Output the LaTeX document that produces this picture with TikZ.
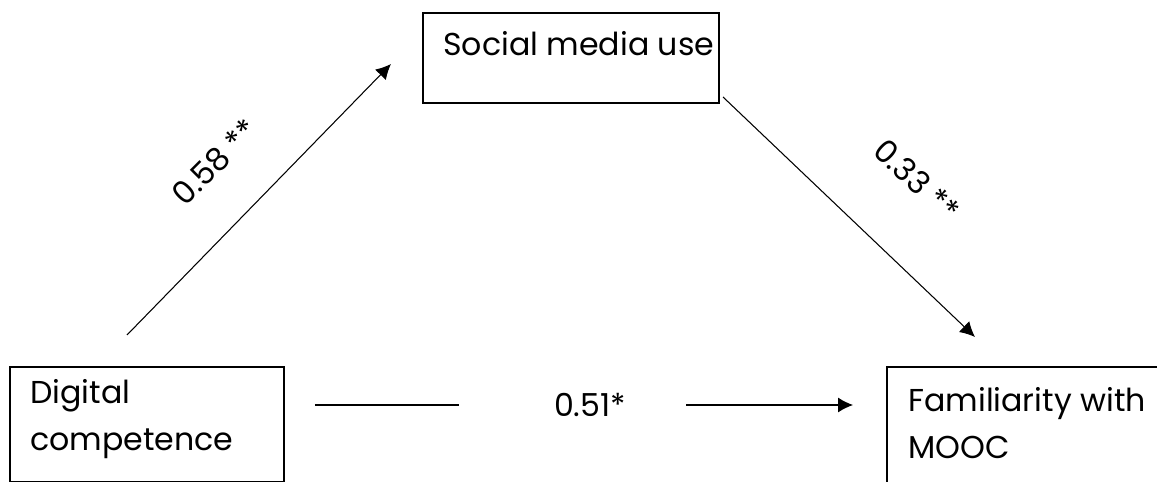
\documentclass[tikz,border=0pt]{standalone}
\usepackage{fontspec}
\setmainfont{Poppins}
\usetikzlibrary{positioning,arrows.meta}

\tikzset{
  box/.style={draw, line width=1pt, rectangle, inner sep=0pt, anchor=north west},
  txt/.style={inner sep=0pt, align=left, font=\fontsize{18}{27}\selectfont},
  lbl/.style={inner sep=0pt, font=\fontsize{18}{22}\selectfont},
  link/.style={line width=0.6pt}
}

\begin{document}
\begin{tikzpicture}[>={Latex[length=0.3cm,width=0.3cm]}]
\useasboundingbox (0,0) rectangle (23.14,9.64);
\clip (0,0) rectangle (23.14,9.64);

% the three variables
\node[box, minimum width=5.48cm, minimum height=2.30cm] (dig) at (0.18,2.32) {};
\node[box, minimum width=5.92cm, minimum height=1.80cm] (soc) at (8.44,9.40) {};
\node[box, minimum width=6cm, minimum height=3cm] (fam) at (17.72,2.32) {};
\node[txt, below right=0.26cm and 0.42cm of dig.north west] (digtxt) {Digital\\competence};
\node[txt, below right=0.38cm and 0.42cm of soc.north west] (soctxt) {Social media use};
\node[txt, below right=0.42cm and 0.44cm of fam.north west] (famtxt) {Familiarity with\\MOOC};

% path coefficients
\node[lbl, rotate=45] (c1) at (4.30,6.40) {0.58 **};
\node[lbl, rotate=-43] (c2) at (18.34,6.04) {0.33 **};
\node[lbl] (c3) at (11.80,1.54) {0.51*};

% a -> m
\coordinate (a1s) at (2.54,2.94);
\coordinate (a1e) at (7.82,8.36);
\draw[link, ->] (a1s) -- (a1e);

% m -> y
\coordinate (a2s) at (14.46,7.70);
\coordinate (a2e) at (19.50,2.90);
\draw[link, ->] (a2s) -- (a2e);

% direct effect
\draw[link, shorten <=0.60cm, shorten >=1.90cm] (dig.east |- c3) -- (c3.west);
\draw[link, ->, shorten <=1.20cm, shorten >=0.66cm] (c3.east) -- (c3 -| fam.west);
\end{tikzpicture}
\end{document}
